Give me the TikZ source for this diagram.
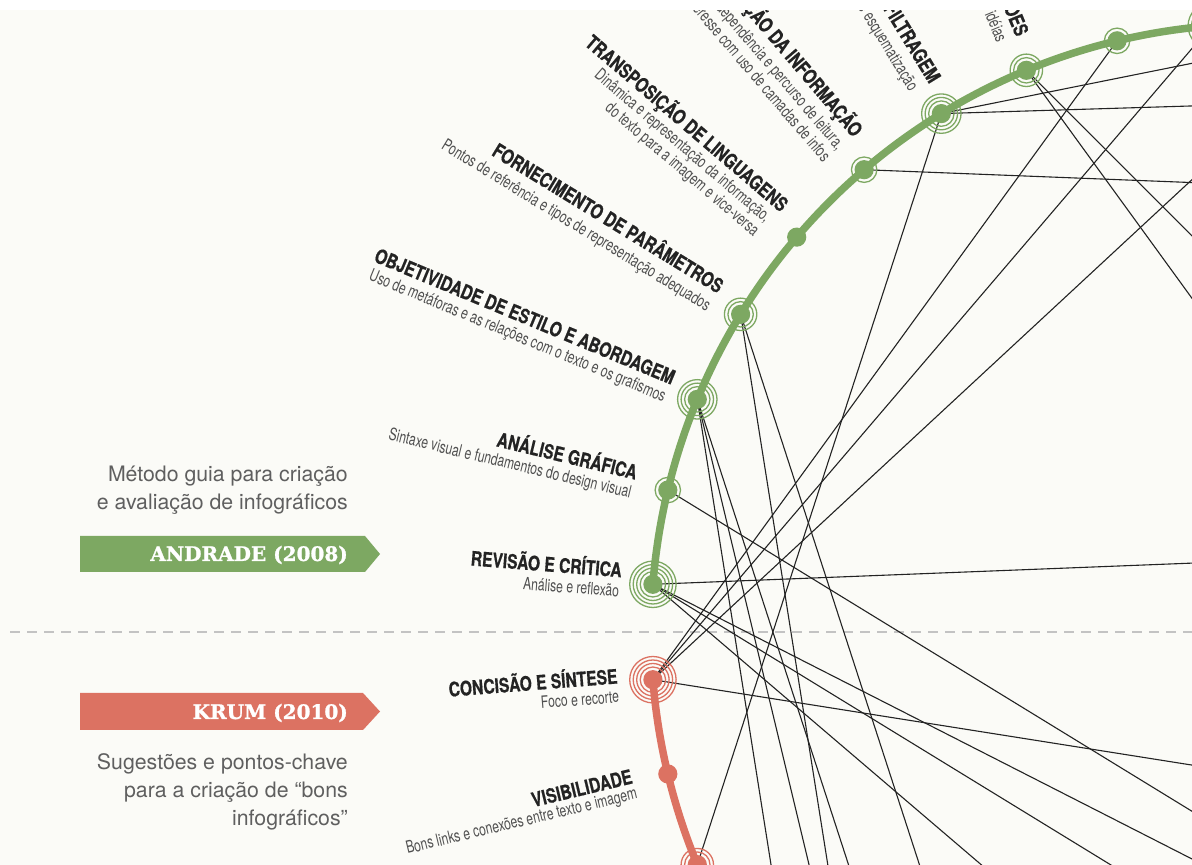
\documentclass[tikz,border=0pt]{standalone}
\usepackage{fontspec}
\setmainfont{TeX Gyre Heros}
\newfontfamily\ttlfont{TeX Gyre Heros}[FakeStretch=0.78, BoldFeatures={FakeBold=0.6}]
\newfontfamily\subfont{TeX Gyre Heros}[FakeStretch=0.715]
\newfontfamily\banfont{DejaVu Serif}[BoldFeatures={FakeBold=1.2}]
\usetikzlibrary{calc}
\definecolor{bg}{RGB}{251,251,247}
\definecolor{grn}{RGB}{125,168,98}
\definecolor{rd}{RGB}{220,114,98}
\definecolor{ink}{RGB}{35,35,35}
\definecolor{subc}{RGB}{80,80,80}
\definecolor{descc}{RGB}{95,95,95}
\definecolor{dashc}{RGB}{195,195,195}
\tikzset{
  link/.style={draw=ink, line width=1.1pt},
  ttl/.style={font=\ttlfont\bfseries\fontsize{20}{22}\selectfont, text=ink, inner sep=0pt, anchor=base east},
  subt/.style={font=\subfont\fontsize{17}{19}\selectfont, text=subc, inner sep=0pt, anchor=base east},
  desc/.style={font=\fontsize{21.3}{29}\selectfont, text=descc, inner sep=0pt, anchor=base east},
  bantext/.style={font=\banfont\bfseries\fontsize{20}{22}\selectfont, text=white, inner sep=0pt, anchor=base east},
  dotn/.style={circle, inner sep=0pt, minimum size=19.2pt},
  ring/.style={line width=1.3pt},
  arcline/.style={line width=7.5pt},
}
\newcommand\Title[5]{\node[ttl, rotate={#2-180}] (#1) at ($(C)+({#2}:{608+#3})+({#2-90}:{#4})$) {#5};}
\newcommand\Sub[5]{\node[subt, rotate={#2-180}] (#1) at ($(C)+({#2}:{608+#3})+({#2+90}:{#4})$) {#5};}
\newcommand\Pt[2]{\coordinate (#1) at ($(C)+({#2}:608)$);}
\newcommand\Dot[3]{% name, colour, rings
  \ifnum#3>0 \foreach \k in {1,...,#3}{\draw[#2, ring] (#1) circle ({9.2+3.5*\k});}\fi
  \node[dotn, fill=#2] (#1dot) at (#1) {};}
\begin{document}
\begin{tikzpicture}[x=1pt,y=1pt]
\useasboundingbox (0,0) rectangle (1192,865);
\clip (0,0) rectangle (1192,865);
\fill[bg] (0,0) rectangle (1192,865);
\coordinate (C) at (1259,233);
% node positions on the circle
\Pt{g0}{175.5}\Pt{g1}{166.5}\Pt{g2}{157.5}\Pt{g3}{148.5}\Pt{g4}{139.5}
\Pt{g5}{130.5}\Pt{g6}{121.5}\Pt{g7}{112.5}\Pt{g8}{103.5}\Pt{g9}{94.5}
\Pt{r0}{184.5}\Pt{r1}{193.5}\Pt{r2}{202.5}
% off-canvas end points
\Pt{q9}{9.0}\Pt{q45}{45.0}\Pt{q62}{62.0}\Pt{q81}{81.2}
\Pt{p220}{220.5}\Pt{p229}{229.5}\Pt{p238}{238.5}\Pt{p247}{247.5}
\Pt{p283}{283.5}\Pt{p301}{301.5}\Pt{p310}{310.5}\Pt{p319}{319.5}\Pt{p337}{337.5}
% dashed separator
\coordinate (dl) at (10,233);
\coordinate (dr) at (1192,233);
\draw[dashc, line width=1.8pt, dash pattern=on 10pt off 7pt] (dl) -- (dr);
% connectors
\draw[link] (r0) -- (g8);
\draw[link] (r0) -- (g9);
\draw[link] (r0) -- (q81);
\draw[link] (r0) -- (p337);
\draw[link] (g7) -- (p319);
\draw[link] (g7) -- (p337);
\draw[link] (g6) -- (q81);
\draw[link] (g6) -- (q62);
\draw[link] (g6) -- (r2);
\draw[link] (g5) -- (q45);
\draw[link] (g3) -- (p229);
\draw[link] (g3) -- (p247);
\draw[link] (g2) -- (p220);
\draw[link] (g2) -- (p229);
\draw[link] (g2) -- (p238);
\draw[link] (g1) -- (p310);
\draw[link] (g0) -- (q9);
\draw[link] (g0) -- (p283);
\draw[link] (g0) -- (p301);
\draw[link] (g0) -- (p310);
% arcs
\draw[grn, arcline] (g0) arc[start angle=175.5, end angle=80, radius=608];
\draw[rd, arcline] (r0) arc[start angle=184.5, end angle=215, radius=608];
% dots with rings
\Dot{g0}{grn}{4}\Dot{g1}{grn}{1}\Dot{g2}{grn}{3}\Dot{g3}{grn}{2}\Dot{g4}{grn}{0}
\Dot{g5}{grn}{1}\Dot{g6}{grn}{3}\Dot{g7}{grn}{2}\Dot{g8}{grn}{1}\Dot{g9}{grn}{4}
\Dot{r0}{rd}{4}\Dot{r1}{rd}{0}\Dot{r2}{rd}{2}
% labels
\Title{tg0}{175.5}{32}{4.5}{REVISÃO E CRÍTICA}
\Sub{sg0}{175.5}{33}{15.3}{Análise e reflexão}
\Title{tg1}{166.5}{34}{2.5}{ANÁLISE GRÁFICA}
\Sub{sg1}{166.5}{35}{16.5}{Sintaxe visual e fundamentos do design visual}
\Title{tg2}{157.5}{29.5}{3.5}{OBJETIVIDADE DE ESTILO E ABORDAGEM}
\Sub{sg2}{157.5}{30.5}{15.6}{Uso de metáforas e as relações com o texto e os grafismos}
\Title{tg3}{148.5}{30}{5.5}{FORNECIMENTO DE PARÂMETROS}
\Sub{sg3}{148.5}{30.5}{15.5}{Pontos de referência e tipos de representação adequados}
\Title{tg4}{139.5}{28}{8}{TRANSPOSIÇÃO DE LINGUAGENS}
\Sub{sg4a}{139.5}{33}{10}{Dinâmica e representação da informação,}
\Sub{sg4b}{139.5}{33}{28}{do texto para a imagem e vice-versa}
\Title{tg5}{130.5}{31}{12}{HIERARQUIZAÇÃO DA INFORMAÇÃO}
\Sub{sg5a}{130.5}{32}{8.5}{Interdependência e percurso de leitura,}
\Sub{sg5b}{130.5}{32}{27}{interesse com uso de camadas de infos}
\Title{tg6}{121.5}{31}{5}{FILTRAGEM}
\Sub{sg6}{121.5}{35}{16}{Seleção e esquematização}
\Title{tg7}{112.5}{34}{3}{RELAÇÕES}
\Sub{sg7}{112.5}{36}{17}{Conexão de idéias}
\Title{tr0}{184.5}{35}{-1}{CONCISÃO E SÍNTESE}
\Sub{sr0}{184.5}{35}{20}{Foco e recorte}
\Title{tr1}{193.5}{35.5}{-1}{VISIBILIDADE}
\Sub{sr1}{193.5}{34.5}{17}{Bons links e conexões entre texto e imagem}
% banners
\fill[grn] (80,293) -- (365,293) -- (380,311) -- (365,329) -- (80,329) -- cycle;
\node[bantext] (bA) at (348,304) {ANDRADE (2008)};
\fill[rd] (80,135) -- (363,135) -- (380,153.5) -- (363,172) -- (80,172) -- cycle;
\node[bantext] (bK) at (348,146) {KRUM (2010)};
% descriptions
\node[desc] (dA1) at (348,383.5) {Método guia para criação};
\node[desc] (dA2) at (348,355) {e avaliação de infográficos};
\node[desc] (dK1) at (348,95) {Sugestões e pontos-chave};
\node[desc] (dK2) at (348,67) {para a criação de “bons};
\node[desc] (dK3) at (348,39) {infográficos”};
% top white strip
\fill[white] (0,855) rectangle (1192,865);
\end{tikzpicture}
\end{document}
